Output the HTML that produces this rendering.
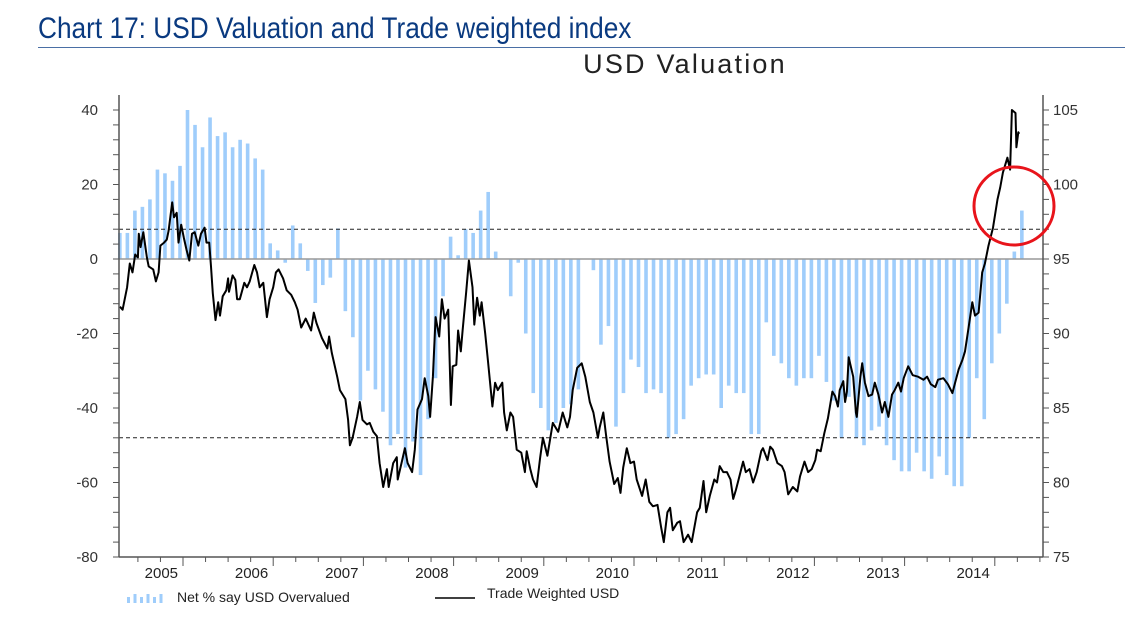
<!DOCTYPE html>
<html><head><meta charset="utf-8">
<style>
html,body{margin:0;padding:0;background:#fff;}
body{width:1147px;height:632px;position:relative;overflow:hidden;font-family:"Liberation Sans",sans-serif;}
#title{position:absolute;left:38px;top:12px;font-family:"Liberation Sans Narrow","Liberation Sans",sans-serif;font-size:30px;color:#0a3a80;white-space:nowrap;transform:scaleX(0.875);transform-origin:0 0;}
#rule{position:absolute;left:38px;top:47px;width:1087px;height:1px;background:#4a6fa5;}
</style></head>
<body>
<div id="title">Chart 17: USD Valuation and Trade weighted index</div>
<div id="rule"></div>
<svg id="chart" width="1147" height="632" style="position:absolute;left:0;top:0"></svg>
<script>
const barStart = 2004.30;
const barValues = [7,7,13,14,16,24,23,21,25,40,36,30,38,33,34,30,32,31,27,24,4.2,2.3,-1,9,4.2,-3.2,-11.8,-7,-5,8.2,-14,
-21,-38,-30,-35,-41,-50,-47,-56,-49,-58,-43,-32,-10,
6,1,8,7,13,18,2,0,
-10,-1,-20,-36,-40,-46,-44,-40,-39,-35,0,-3,-23,-18,-45,-36,-27,-29,-36,-35,-36,-48,-47,-43,-34,-32,-31,-31,-40,-34,-36,-36,-47,-47,-17,-26,
-28,-32,-34,-32,-32,-26,-33,-38,-48,-37,-48,-50,-46,-45,-50,-54,-57,-57,-52,-57,-59,-53,-58,-61,-61,-48,-32,-43,-28,-20,-12,2,13];
const lineDates = [2004.30,2004.33,2004.38,2004.41,2004.44,2004.47,2004.50,2004.51,2004.53,2004.56,2004.60,2004.62,2004.67,2004.70,2004.73,2004.75,2004.79,2004.82,2004.84,2004.88,2004.90,2004.93,2004.95,2004.98,2005.01,2005.04,2005.07,2005.10,2005.13,2005.17,2005.20,2005.24,2005.26,2005.29,2005.31,2005.33,2005.36,2005.39,2005.41,2005.44,2005.48,2005.50,2005.51,2005.55,2005.58,2005.60,2005.63,2005.68,2005.71,2005.74,2005.79,2005.82,2005.85,2005.89,2005.93,2005.96,2006.00,2006.03,2006.06,2006.11,2006.15,2006.20,2006.24,2006.27,2006.31,2006.36,2006.42,2006.45,2006.48,2006.54,2006.60,2006.62,2006.65,2006.71,2006.74,2006.80,2006.83,2006.85,2006.88,2006.93,2006.96,2006.99,2007.04,2007.07,2007.11,2007.15,2007.18,2007.22,2007.26,2007.28,2007.33,2007.37,2007.38,2007.43,2007.46,2007.49,2007.54,2007.57,2007.60,2007.65,2007.68,2007.72,2007.74,2007.77,2007.80,2007.84,2007.87,2007.90,2007.94,2007.97,2007.99,2008.03,2008.05,2008.08,2008.10,2008.14,2008.17,2008.21,2008.23,2008.26,2008.29,2008.31,2008.35,2008.38,2008.43,2008.46,2008.49,2008.54,2008.56,2008.59,2008.63,2008.66,2008.70,2008.75,2008.79,2008.81,2008.85,2008.88,2008.92,2008.96,2008.99,2009.04,2009.07,2009.10,2009.16,2009.21,2009.26,2009.29,2009.32,2009.37,2009.42,2009.46,2009.51,2009.55,2009.60,2009.62,2009.66,2009.69,2009.73,2009.78,2009.82,2009.85,2009.88,2009.92,2009.96,2010.00,2010.03,2010.09,2010.13,2010.17,2010.21,2010.26,2010.30,2010.33,2010.37,2010.40,2010.43,2010.48,2010.51,2010.55,2010.60,2010.64,2010.70,2010.73,2010.77,2010.80,2010.84,2010.89,2010.92,2010.95,2010.99,2011.03,2011.07,2011.10,2011.13,2011.16,2011.21,2011.24,2011.28,2011.32,2011.36,2011.41,2011.43,2011.48,2011.51,2011.54,2011.59,2011.64,2011.67,2011.71,2011.76,2011.81,2011.84,2011.89,2011.93,2011.97,2012.01,2012.03,2012.07,2012.11,2012.15,2012.20,2012.23,2012.26,2012.28,2012.32,2012.34,2012.36,2012.38,2012.43,2012.46,2012.47,2012.51,2012.53,2012.56,2012.60,2012.64,2012.67,2012.71,2012.75,2012.78,2012.82,2012.86,2012.89,2012.93,2012.96,2012.99,2013.04,2013.09,2013.15,2013.21,2013.25,2013.29,2013.34,2013.37,2013.43,2013.48,2013.53,2013.56,2013.60,2013.64,2013.67,2013.70,2013.75,2013.78,2013.82,2013.86,2013.89,2013.93,2013.98,2014.03,2014.06,2014.09,2014.14,2014.17,2014.19,2014.23,2014.24,2014.26,2014.27];
const lineValues = [91.8,91.6,93.1,94.7,94.1,95.3,95.1,96.7,95.8,96.8,95.1,94.5,94.3,93.5,94.1,95.9,96.1,96.3,96.9,98.8,97.8,98.1,96.1,97.3,96.4,95.6,94.9,96.7,96.8,95.9,96.7,97.1,96.1,96.1,94.5,92.7,90.9,92.1,91.2,92.5,92.9,93.7,92.8,93.9,93.6,92.3,92.3,93.4,93.1,93.5,94.6,94.1,93.1,93.4,91.1,92.3,93.1,94.1,94.3,93.7,92.9,92.6,92.1,91.6,90.4,91.0,90.2,91.4,90.7,89.7,89.0,89.8,88.7,87.1,86.2,85.6,84.2,82.5,83.0,84.4,85.4,84.2,83.9,84.0,83.4,83.1,81.3,79.7,80.9,79.7,81.3,81.7,80.2,81.5,82.3,81.3,80.7,82.2,84.9,85.6,87.0,85.8,84.4,87.1,91.1,89.8,92.3,91.0,91.6,85.2,87.8,87.9,90.2,88.8,90.2,92.8,94.9,93.1,90.6,92.4,91.2,92.1,90.0,88.2,85.1,86.7,86.2,86.7,84.7,83.5,84.7,84.4,82.2,82.0,80.7,82.1,80.9,80.2,79.7,81.7,83.0,81.8,82.9,84.0,83.4,84.7,83.7,84.4,86.2,87.7,88.0,87.1,85.4,84.7,83.0,83.7,84.7,83.2,81.4,79.9,80.3,79.3,81.0,82.3,81.3,81.4,80.2,79.1,80.2,78.7,78.4,78.5,77.0,76.0,78.0,78.3,76.8,77.3,77.4,76.0,76.5,76.0,78.0,78.3,80.1,78.0,79.1,80.2,80.0,81.1,80.7,80.7,80.2,78.9,79.5,80.2,81.4,80.7,80.9,80.0,80.7,82.1,82.3,81.5,82.4,82.2,81.3,81.1,80.7,79.2,79.7,79.4,80.4,81.4,80.7,80.9,81.5,82.2,82.1,83.3,84.3,86.1,85.8,85.1,86.2,86.8,85.4,86.1,88.4,87.1,84.7,84.4,87.1,88.0,86.7,85.8,85.9,86.7,85.9,84.7,85.4,84.4,85.9,86.2,86.7,86.1,87.0,87.8,87.2,87.1,86.9,87.1,86.6,86.4,86.9,87.0,86.6,86.0,86.7,87.6,88.2,88.8,90.0,92.1,91.2,91.4,94.1,94.7,95.9,97.1,99.0,99.8,100.8,101.8,101.0,105.0,104.8,102.5,103.5,103.4];
const leftTicks = [40,20,0,-20,-40,-60,-80];
const rightTicks = [105,100,95,90,85,80,75];
const yearLabels = [2005,2006,2007,2008,2009,2010,2011,2012,2013,2014];
const dashLevels = [8,-48];

const NS = 'http://www.w3.org/2000/svg';
const svg = document.getElementById('chart');
const X0 = 119, X1 = 1043;
function xs(t){ return 183 + (t - 2005) * 90.2; }
function yl(v){ return 259 - v * 3.725; }
function yr(v){ return yl((v - 95) * 4); }
function mk(tag, attrs){ const e = document.createElementNS(NS, tag); for (const k in attrs) e.setAttribute(k, attrs[k]); svg.appendChild(e); return e; }

let st = mk('text', {x:685, y:73, 'text-anchor':'middle', 'font-size':27, 'letter-spacing':2.2, fill:'#222', 'font-family':'Liberation Sans, sans-serif'});
st.textContent = 'USD Valuation';



barValues.forEach((v, i) => {
  const t = barStart + i / 12;
  const x = xs(t);
  const y0 = yl(0), y1 = yl(v);
  const r = mk('rect', {x:x - 1.8, y:Math.min(y0, y1), width:3.6, height:Math.abs(y1 - y0), fill:'#9fcdfb'});
  
  
});

let zl = mk('line', {x1:X0, x2:X1, y1:yl(0), y2:yl(0), stroke:'#999', 'stroke-width':1.5});


dashLevels.forEach(v => {
  const d = mk('line', {x1:X0, x2:X1, y1:yl(v), y2:yl(v), stroke:'#222', 'stroke-width':1, 'stroke-dasharray':'4,3'});
  
  
});

let pts = lineDates.map((t, i) => xs(t).toFixed(1) + ',' + yr(lineValues[i]).toFixed(1)).join(' ');
let pl = mk('polyline', {points:pts, fill:'none', stroke:'#000', 'stroke-width':2, 'stroke-linejoin':'round'});



let la = mk('line', {x1:X0, x2:X0, y1:95, y2:557, stroke:'#555', 'stroke-width':1.5});


let ra = mk('line', {x1:X1, x2:X1, y1:95, y2:557, stroke:'#555', 'stroke-width':1.5});


let ba = mk('line', {x1:X0, x2:X1, y1:557, y2:557, stroke:'#555', 'stroke-width':1.5});



for (let v = -80; v <= 40; v += 4) {
  mk('line', {x1:X0 - 6, x2:X0, y1:yl(v), y2:yl(v), stroke:'#555', 'stroke-width':1});
  mk('line', {x1:X1, x2:X1 + 6, y1:yl(v), y2:yl(v), stroke:'#555', 'stroke-width':1});
}
leftTicks.forEach(v => {
  const t = mk('text', {x:98, y:yl(v) + 5, 'text-anchor':'end', 'font-size':15, fill:'#333'});
  t.textContent = v;
  
  
});
rightTicks.forEach(v => {
  const t = mk('text', {x:1053, y:yr(v) + 5, 'text-anchor':'start', 'font-size':15, fill:'#333'});
  t.textContent = v;
  
  
});
for (let q = 2004.5; q <= 2014.5; q += 0.25) {
  const major = Math.abs(q - Math.round(q)) < 0.01;
  mk('line', {x1:xs(q), x2:xs(q), y1:557, y2:major ? 566 : 562, stroke:'#555', 'stroke-width':1});
}
yearLabels.forEach(y => {
  const t = mk('text', {x:xs(y - 0.24), y:578, 'text-anchor':'middle', 'font-size':15, fill:'#222'});
  t.textContent = y;
  
  
});

let rc = mk('ellipse', {cx:1014, cy:206, rx:40, ry:39, fill:'none', stroke:'#e8141b', 'stroke-width':3});



[0,1,2,3,4,5].forEach(i => {
  const h = [6,9,6,9,6,9][i];
  mk('rect', {x:127 + i * 6.5, y:603 - h, width:3, height:h, fill:'#9fcdfb'});
});
let l1 = mk('text', {x:177, y:602, 'font-size':14, fill:'#222'});
l1.textContent = 'Net % say USD Overvalued';


mk('line', {x1:435, x2:475, y1:598, y2:598, stroke:'#000', 'stroke-width':1.5});
let l2 = mk('text', {x:487, y:598, 'font-size':14, fill:'#222'});
l2.textContent = 'Trade Weighted USD';


</script>
</body></html>
